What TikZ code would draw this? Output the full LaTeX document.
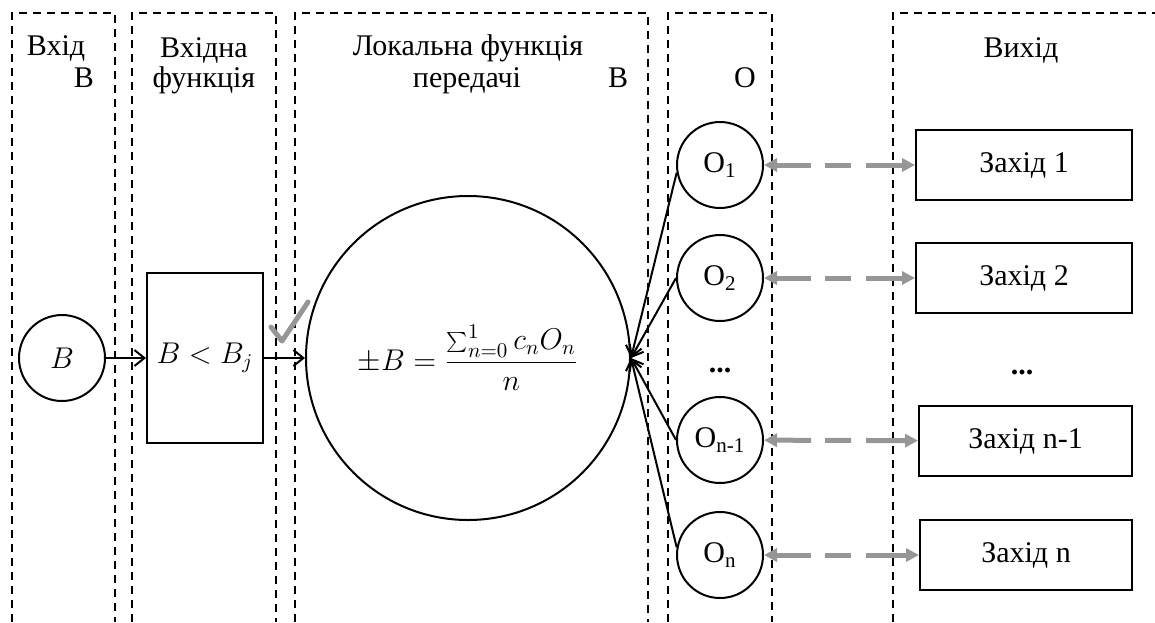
\RequirePackage{fix-cm}
\documentclass[tikz,border=0pt]{standalone}
\usepackage{fontspec}
\setmainfont{Liberation Serif}
\usetikzlibrary{arrows.meta}
\definecolor{gr}{RGB}{150,150,150}
\begin{document}
\begin{tikzpicture}[x=0.5pt,y=-0.5pt,
  col/.style={line width=1pt, dash pattern=on 4pt off 3pt},
  lbl/.style={font=\fontsize{15}{16}\selectfont, anchor=base, inner sep=0pt},
  circ/.style={circle, draw, line width=1pt, minimum size=43pt, inner sep=0pt, font=\fontsize{15}{16}\selectfont},
  bx/.style={draw, line width=1pt, inner sep=0pt, font=\fontsize{15}{16}\selectfont},
  arr/.style={line width=1pt, -{Straight Barb[length=5pt,width=8pt]}},
  garr/.style={draw=gr, line width=2.5pt, {Triangle[length=6.5pt,width=6.5pt]}-{Triangle[length=6.5pt,width=6.5pt]}, dash pattern=on 17.5pt off 7pt on 13pt off 7.5pt on 20pt}
]
\useasboundingbox (0,0) rectangle (1155,622);
% dashed columns
\draw[col] (12,622) -- (12,13) -- (115,13) -- (115,622);
\draw[col] (132,622) -- (132,13) -- (276,13) -- (276,622);
\draw[col] (295,622) -- (295,13) -- (648,13) -- (648,622);
\draw[col] (668,622) -- (668,13) -- (772,13) -- (772,622);
\draw[col] (893,622) -- (893,13) -- (1155,13);
% labels
\node[lbl] (l1) at (56,55) {Вхід};
\node[lbl] (l1b) at (84,87) {B};
\node[lbl] (l2) at (204,57) {Вхідна};
\node[lbl] (l2b) at (204,87) {функція};
\node[lbl] (l3) at (468,55) {Локальна функція};
\node[lbl] (l3b) at (467,87) {передачі};
\node[lbl] (l3c) at (618,87) {B};
\node[lbl] (l4) at (745,87) {O};
\node[lbl] (l5) at (1021,57) {Вихід};
% main nodes
\node[circ] (b) at (62,358) {$B$};
\node[bx, minimum width=58pt, minimum height=85pt] (f) at (205,358) {$B < B_j$};
\node[circle, draw, line width=1pt, minimum size=162pt, inner sep=0pt, font=\fontsize{15}{16}\selectfont] (big) at (468,358)
  {$\displaystyle \pm B = \frac{\textstyle\sum_{n=0}^{1} c_n O_n}{n}$};
\node[circ] (o1) at (720,165) {O\textsubscript{1}};
\node[circ] (o2) at (720,278) {O\textsubscript{2}};
\node[lbl] (d1) at (720,372) {\textbf{...}};
\node[circ] (o3) at (720,440) {O\textsubscript{n-1}};
\node[circ] (o4) at (720,555) {O\textsubscript{n}};
\node[bx, minimum width=108pt, minimum height=35pt, anchor=east] (z1) at (1133,165) {Захід 1};
\node[bx, minimum width=108pt, minimum height=35pt, anchor=east] (z2) at (1133,278) {Захід 2};
\node[lbl] (d2) at (1022,374) {\textbf{...}};
\node[bx, minimum width=106.5pt, minimum height=35pt, anchor=east] (z3) at (1133,441) {Захід n-1};
\node[bx, minimum width=106pt, minimum height=35pt, anchor=east] (z4) at (1133,555) {Захід n};
% connectors
\draw[arr] (b) -- (f);
\draw[arr] (f) -- (big);
\draw[arr] (o1.190) -- (big.east);
\draw[arr] (o2.west) -- (big.east);
\draw[arr] (o3.west) -- (big.east);
\draw[arr] (o4.170) -- (big.east);
\draw[garr] (o1) -- (z1);
\draw[garr] (o2) -- (z2);
\draw[garr] (o3) -- (z3);
\draw[garr] (o4) -- (z4);
% check mark
\draw[gr, line width=2.5pt, line cap=round, line join=round] (271,327) -- (282,341) -- (308,302);
\end{tikzpicture}
\end{document}
